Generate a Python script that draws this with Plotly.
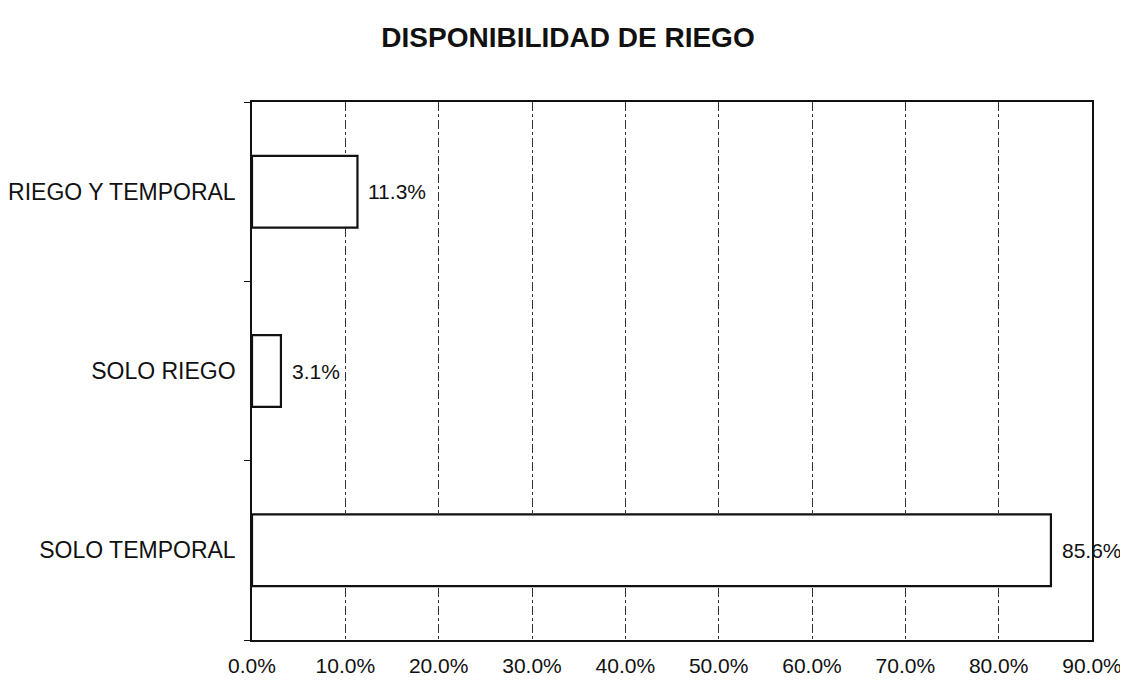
import plotly.graph_objects as go

categories = ["RIEGO Y TEMPORAL", "SOLO RIEGO", "SOLO TEMPORAL"]
values = [11.3, 3.1, 85.6]
labels = ["11.3%", "3.1%", "85.6%"]
tick_vals = [0, 10, 20, 30, 40, 50, 60, 70, 80, 90]
tick_text = ["0.0%", "10.0%", "20.0%", "30.0%", "40.0%", "50.0%", "60.0%", "70.0%", "80.0%", "90.0%"]

FONT = "Liberation Sans, Arial, sans-serif"
W, H = 1120, 671

fig = go.Figure()
fig.add_trace(go.Bar(
    x=values, y=categories, orientation="h",
    marker=dict(color="white", line=dict(color="#111", width=2.2)),
    width=0.4,
    hoverinfo="x+y",
))
for v, c, t in zip(values, categories, labels):
    fig.add_annotation(
        x=v, y=c, text=t, showarrow=False, xanchor="left", yanchor="middle",
        xshift=9, font=dict(family=FONT, size=21, color="#111"),
    )
fig.update_layout(
    width=W, height=H,
    paper_bgcolor="white", plot_bgcolor="white",
    margin=dict(l=244, r=36, t=94, b=39),
    title=dict(text="<b>DISPONIBILIDAD DE RIEGO</b>", x=0.5, xref="container", xanchor="center",
               y=1 - 29 / H, yref="container", yanchor="middle",
               font=dict(family=FONT, size=28, color="#111")),
    showlegend=False,
    font=dict(family=FONT, color="#111"),
)
fig.update_xaxes(
    range=[0, 90], tickvals=tick_vals, ticktext=tick_text,
    tickfont=dict(size=21, color="#111"),
    showgrid=True, gridcolor="#333", griddash="dashdot", gridwidth=1,
    showline=True, linecolor="#111", linewidth=1.5, mirror=True,
    ticks="outside", ticklen=6, tickcolor="white",
    zeroline=False, automargin=False,
)
fig.update_yaxes(
    categoryorder="array", categoryarray=categories[::-1],
    tickfont=dict(size=23, color="#111"),
    showline=True, linecolor="#111", linewidth=1.5, mirror=True,
    ticks="outside", tickson="boundaries", ticklen=6, tickcolor="#111",
    ticklabelstandoff=10,
    showgrid=False, automargin=False,
)
fig.write_html("out.html")
